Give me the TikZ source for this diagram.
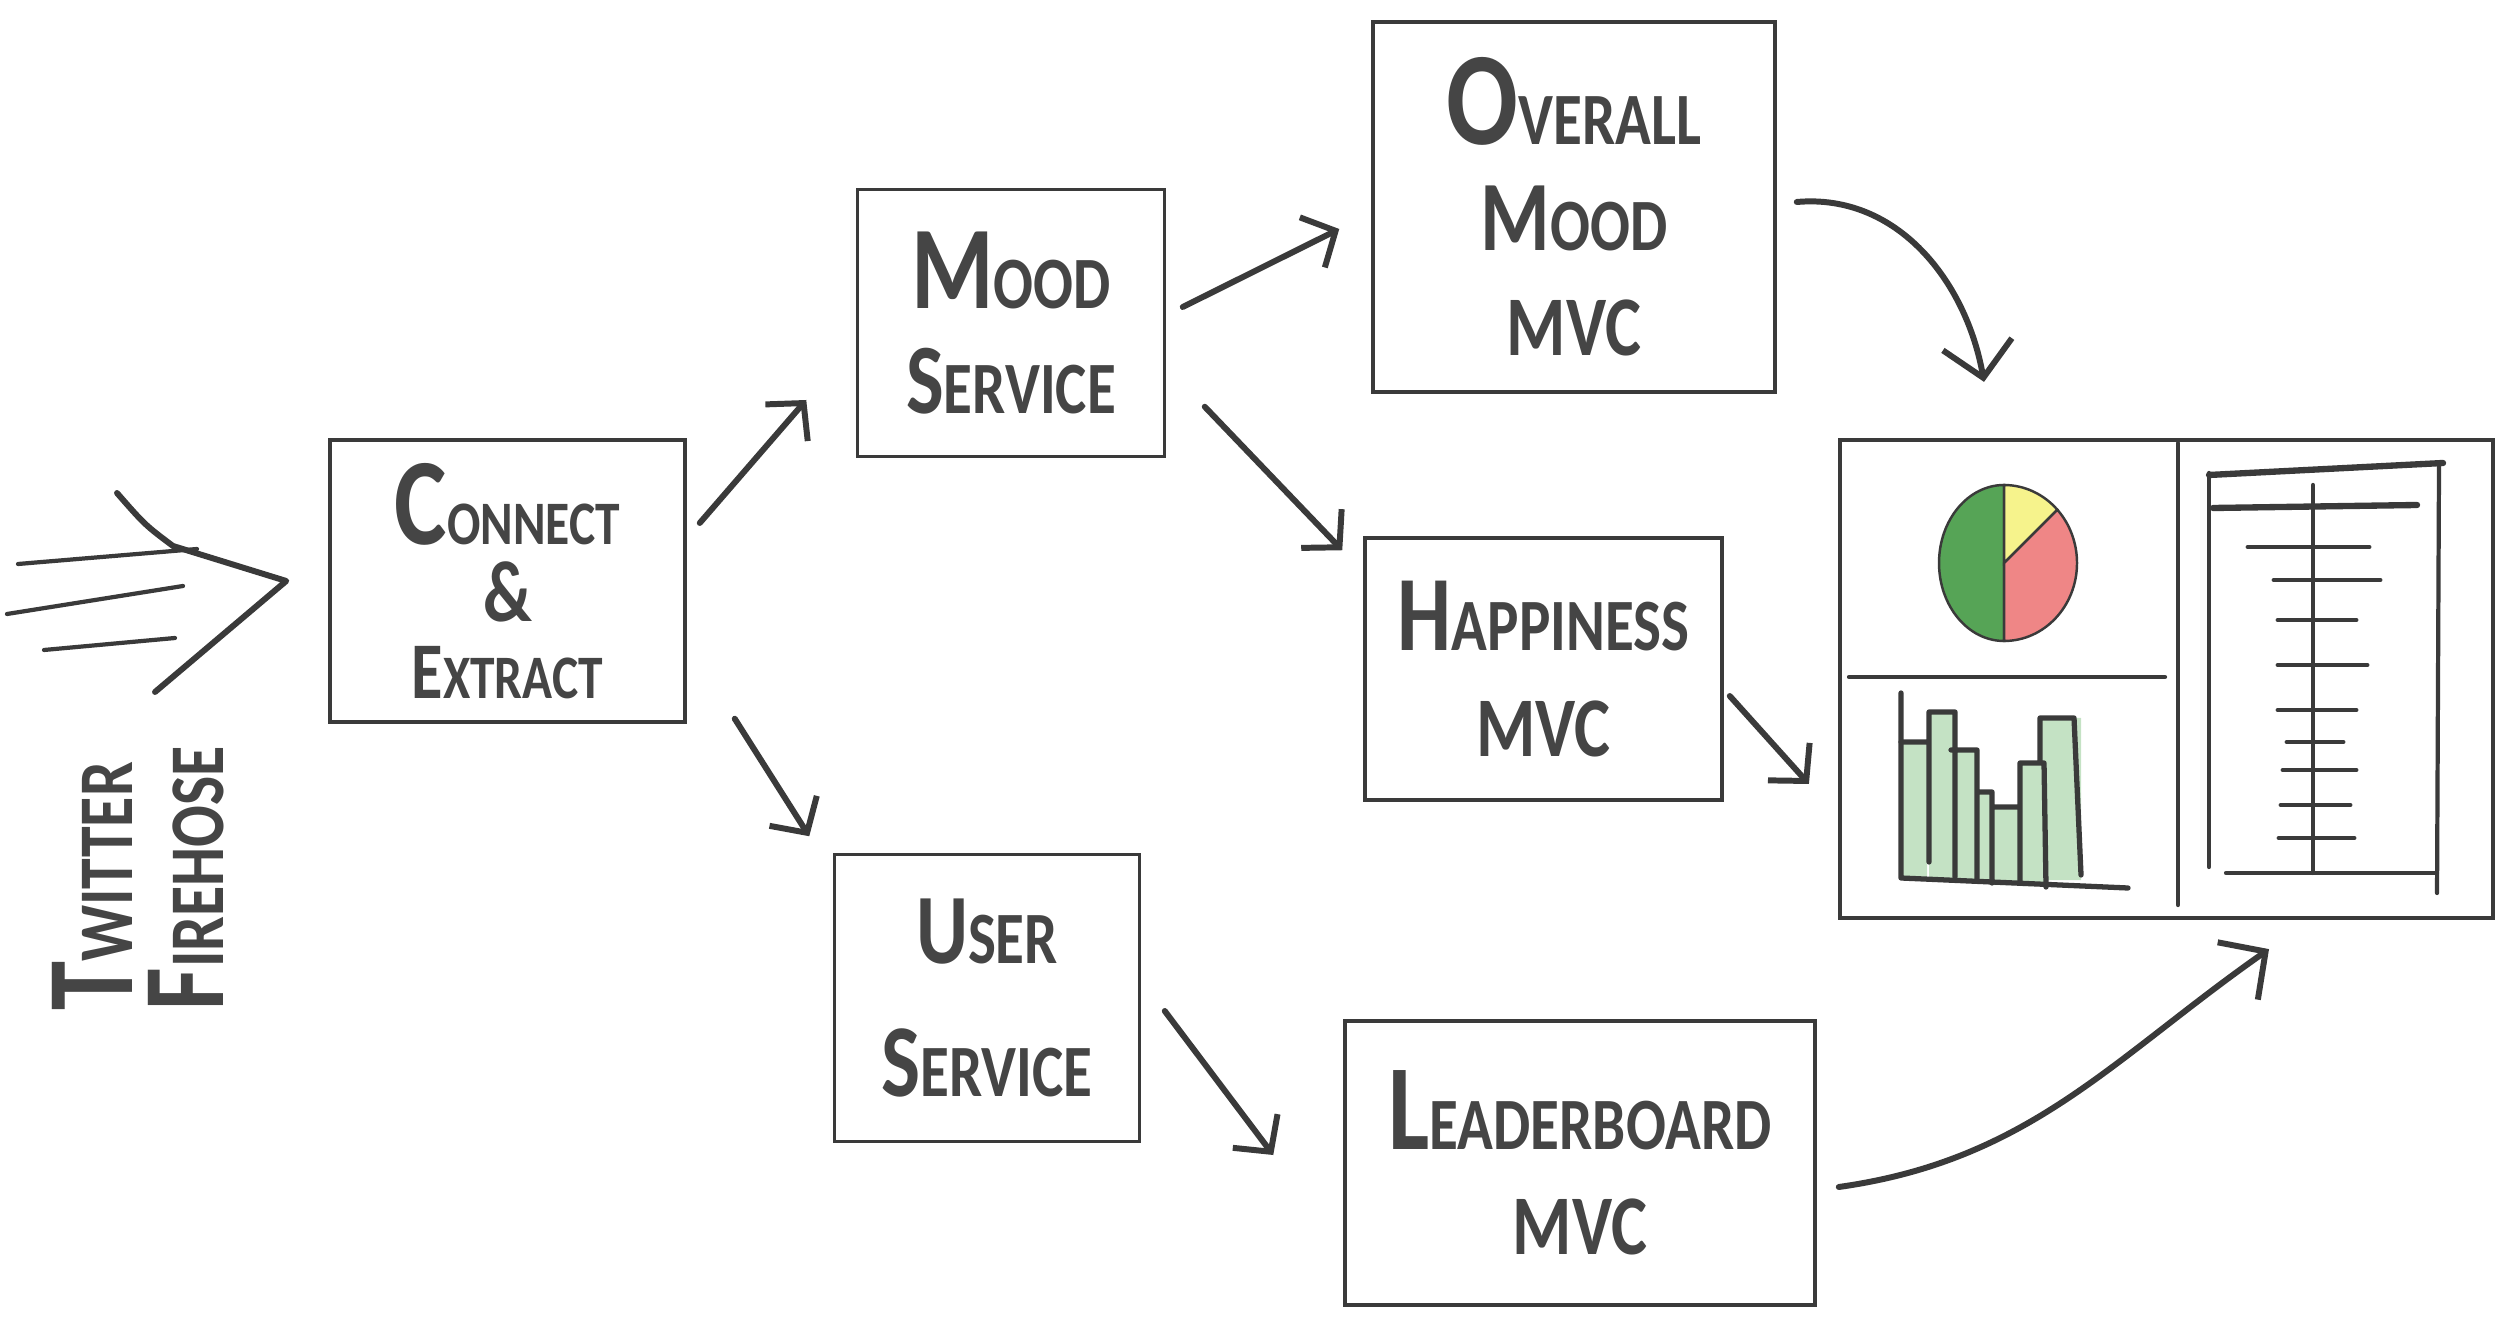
\documentclass[tikz,border=0pt]{standalone}
\usepackage{fontspec}
\setmainfont{Carlito}[FakeStretch=0.8]
\usepackage{graphicx}
\usetikzlibrary{arrows.meta,positioning,calc}
\definecolor{ink}{HTML}{3A3A3A}
\definecolor{pen}{HTML}{454545}
\definecolor{pieGreen}{HTML}{56A456}
\definecolor{pieYellow}{HTML}{F6F38C}
\definecolor{pieRed}{HTML}{EF8686}
\definecolor{barGreen}{HTML}{C4E2C4}
\tikzset{
	box/.style={draw=ink, line width=1pt, text=pen, align=center, inner sep=2pt,
		font=\fontsize{21}{30}\selectfont\bfseries},
	flow/.style={draw=ink, line width=1.7pt, line cap=round,
		-{Straight Barb[length=2.6mm,width=5.6mm,line width=1.7pt]}},
	bigflow/.style={flow, -{Straight Barb[length=3.4mm,width=7mm,line width=1.7pt]}},
	sketch/.style={draw=ink, line width=1.2pt, line cap=round, line join=round}
}
\newcommand{\sk}[3][1.5]{\scalebox{#1}{#2}#3}
\newcommand{\mvc}{\scalebox{1.15}{MVC}}

\begin{document}
\begin{tikzpicture}
				\useasboundingbox (0,0) rectangle (25.09,-13.26);
				\node[box, minimum width=3.55cm, minimum height=2.82cm, font=\fontsize{17.6}{22}\selectfont\bfseries] (conn) at (5.075,-5.81) {\sk[2]{C}{ONNECT}\\\scalebox{1.4}{\&}\\\sk[1.3]{E}{XTRACT}};
				
				\node[box, minimum width=3.07cm, minimum height=2.67cm] (mood) at (10.11,-3.23) {\sk[1.6]{M}{OOD}\\\sk[1.35]{S}{ERVICE}};
				\node[box, minimum width=3.05cm, minimum height=2.87cm] (user) at (9.87,-9.98) {\sk[1.35]{U}{SER}\\[8pt]\sk[1.4]{S}{ERVICE}};
				
				\node[box, minimum width=4.02cm, minimum height=3.70cm] (overall) at (15.74,-2.07) {\sk[1.8]{O}{VERALL}\\\sk[1.35]{M}{OOD}\\\mvc};
				\node[box, minimum width=3.57cm, minimum height=2.62cm] (happy) at (15.435,-6.69) {\sk[1.45]{H}{APPINESS}\\\mvc};
				\node[box, minimum width=4.70cm, minimum height=2.84cm] (leader) at (15.80,-11.63) {\sk[1.65]{L}{EADERBOARD}\\\mvc};
				
				\node[draw=ink, line width=1.2pt, minimum width=6.53cm, minimum height=4.78cm] (dash) at (21.665,-6.79) {};
				
				% firehose
				\node[rotate=90, anchor=west, align=left, text=pen, font=\fontsize{22}{26}\selectfont\bfseries] (src) at (1.38,-10.23) {\sk[1.6]{T}{WITTER}\\\sk[1.5]{F}{IREHOSE}};
				\coordinate (tip) at ([xshift=-0.42cm]conn.west);
				\draw[sketch] (0.18,-5.64) -- (1.97,-5.49);
				\draw[sketch] (0.07,-6.14) -- (1.83,-5.86);
				\draw[sketch] (0.44,-6.50) -- (1.75,-6.38);
				\draw[sketch, line width=1.7pt] (1.17,-4.93) .. controls (1.45,-5.25) .. (1.73,-5.46) -- (tip) -- (1.55,-6.92);
				
				\path ([shift={(0.13,0.58)}]conn.east) edge[flow] ([shift={(-0.495,-0.77)}]mood.west);
				\path ([shift={(0.48,0.05)}]conn.south east) edge[flow] ([shift={(-0.235,0.165)}]user.north west);
				\path ([shift={(0.165,0.16)}]mood.east) edge[flow] ([shift={(-0.32,-0.22)}]overall.west);
				\path ([shift={(0.385,0.515)}]mood.south east) edge[flow] ([shift={(-0.21,-0.14)}]happy.north west);
				\path ([shift={(0.235,-0.13)}]user.east) edge[flow] ([shift={(-0.70,0.08)}]leader.west);
				\path ([shift={(0.2,0.05)}]overall.east) edge[bigflow, out=5, in=100] ([shift={(-1.825,0.56)}]dash.north);
				\path ([shift={(0.06,-0.27)}]happy.east) edge[flow] ([shift={(-0.29,-1.05)}]dash.west);
				\path ([shift={(0.22,-0.24)}]leader.east) edge[bigflow, out=8, in=215] ([shift={(1.025,-0.29)}]dash.south);
				
				% dashboard
				\draw[sketch] (21.78,-4.43) -- (21.78,-9.05);
				\draw[sketch] (18.49,-6.77) -- (21.65,-6.77);
				\coordinate (hub) at (20.04,-5.63);
				\filldraw[fill=pieGreen, draw=ink, line width=0.7pt] (hub) -- ++(0,0.78) arc[start angle=90, end angle=270, x radius=0.65, y radius=0.78] -- cycle;
				\filldraw[fill=pieYellow, draw=ink, line width=0.7pt] (hub) -- ++({0.73*cos(43)},{0.78*sin(43)}) arc[start angle=43, end angle=90, x radius=0.73, y radius=0.78] -- cycle;
				\filldraw[fill=pieRed, draw=ink, line width=0.7pt] (hub) -- ++(0,-0.78) arc[start angle=-90, end angle=43, x radius=0.73, y radius=0.78] -- cycle;
				
				\fill[barGreen] (19.01,-7.42) rectangle (19.27,-8.78) (19.29,-7.12) rectangle (19.55,-8.80)
				(19.55,-7.50) rectangle (19.77,-8.82) (19.79,-7.92) rectangle (19.92,-8.83)
				(19.92,-8.07) rectangle (20.20,-8.85) (20.20,-7.63) rectangle (20.44,-8.86)
				(20.40,-7.18) rectangle (20.81,-8.80);
				\draw[sketch, line width=1.5pt] (19.01,-6.93) -- (19.01,-8.78) -- (21.28,-8.88);
				\draw[sketch, line width=1.5pt] (19.01,-7.42) -- (19.27,-7.42)
				(19.29,-8.62) -- (19.29,-7.12) -- (19.55,-7.12) -- (19.55,-8.77)
				(19.51,-7.50) -- (19.77,-7.50) -- (19.77,-8.80)
				(19.79,-7.92) -- (19.92,-7.92) -- (19.92,-8.83)
				(19.92,-8.07) -- (20.20,-8.07)
				(20.20,-8.83) -- (20.20,-7.63) -- (20.44,-7.63) -- (20.46,-8.87)
				(20.40,-7.63) -- (20.40,-7.18) -- (20.74,-7.18) -- (20.81,-8.75);
				
				\draw[sketch] (22.09,-4.73) -- (22.09,-8.67);
				\draw[sketch, line width=1.8pt] (22.09,-4.75) -- (24.43,-4.63);
				\draw[sketch] (24.39,-4.63) -- (24.37,-8.93);
				\draw[sketch] (22.26,-8.73) -- (24.37,-8.73);
				\draw[sketch, line width=1.8pt] (22.13,-5.08) -- (24.17,-5.05);
				\draw[sketch] (23.13,-4.85) -- (23.13,-8.73);
				\foreach \y/\a/\b in {5.47/22.48/23.69, 5.80/22.74/23.80, 6.20/22.78/23.56, 6.65/22.78/23.67, 7.10/22.78/23.56, 7.42/22.87/23.43, 7.70/22.83/23.56, 8.05/22.81/23.50, 8.38/22.79/23.54}
				\draw[sketch, line width=1.4pt] (\a,-\y) -- (\b,-\y);
			\end{tikzpicture}
\end{document}
